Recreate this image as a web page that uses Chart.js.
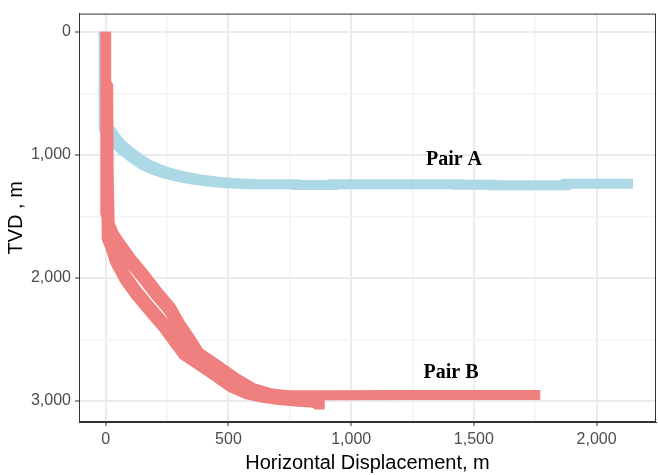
<!DOCTYPE html>
<html>
<head>
<meta charset="utf-8">
<script src="https://cdn.jsdelivr.net/npm/chart.js@4.4.1/dist/chart.umd.min.js"></script>
<style>
  html, body { margin: 0; padding: 0; background: #fff; }
  #wrap { width: 658px; height: 475px; position: relative; }
</style>
</head>
<body>
<div id="wrap"><canvas id="chart"></canvas></div>
<script>
// Well trajectories: horizontal displacement (m) vs TVD (m)
const pairAX = [-9, -9, 5, 20, 30, 60, 98, 130, 166, 207, 247, 300, 370, 440, 505, 600, 770, 780, 920, 930, 1430, 1440, 1570, 1580, 1870, 1880, 2128];
const pairAY = [40, 760, 800, 820, 857, 930, 992, 1040, 1085, 1120, 1148, 1175, 1200, 1218, 1232, 1240, 1240, 1246, 1246, 1240, 1240, 1244, 1244, 1247, 1247, 1236, 1236];

const pairB1X = [2, 2, 10, 12, 16, 30, 49, 97, 158, 205, 262, 300, 341, 375, 451, 519, 587, 655, 723, 900, 1200, 1500, 1750];
const pairB1Y = [40, 440, 470, 1200, 1590, 1660, 1717, 1852, 2000, 2121, 2255, 2390, 2510, 2618, 2720, 2817, 2898, 2938, 2954, 2955, 2952, 2952, 2952];

const pairB2X = [-2, -2, 3, 4, 18, 40, 80, 124, 180, 238, 282, 322, 385, 451, 519, 587, 655, 723, 791, 865, 872];
const pairB2Y = [40, 1440, 1470, 1650, 1717, 1852, 2000, 2121, 2255, 2390, 2510, 2618, 2700, 2790, 2885, 2945, 2975, 2993, 3005, 3015, 3030];

const xMajorTicks = [0, 500, 1000, 1500, 2000];
const xMinorTicks = [250, 750, 1250, 1750];
const yMajorTicks = [0, 1000, 2000, 3000];
const yMinorTicks = [500, 1500, 2500];

const labelTexts = ['Pair A', 'Pair B'];
const labelX = [1419, 1407];
const labelY = [1043, 2773];

const colorA = '#ADD8E6';
const colorB = '#F08080';
const markSize = 10;

function toPoints(xs, ys) {
    return xs.map((x, i) => ({ x: x, y: ys[i] }));
}

function allTicks(major, minor) {
    return major.concat(minor).sort((a, b) => a - b).map(v => ({ value: v }));
}

function wellDataset(xs, ys, color, layer) {
    return {
        data: toPoints(xs, ys),
        showLine: false,
        pointRadius: 0,
        borderColor: color,
        backgroundColor: color,
        layer: layer
    };
}

// convex hull (monotone chain), counter-clockwise
function hull(pts) {
    pts.sort((a, b) => a.x - b.x || a.y - b.y);
    const cross = (o, a, b) => (a.x - o.x) * (b.y - o.y) - (a.y - o.y) * (b.x - o.x);
    const lower = [];
    const upper = [];
    for (const p of pts) {
        while (lower.length >= 2 && cross(lower[lower.length - 2], lower[lower.length - 1], p) <= 0) lower.pop();
        lower.push(p);
    }
    for (let i = pts.length - 1; i >= 0; i--) {
        const p = pts[i];
        while (upper.length >= 2 && cross(upper[upper.length - 2], upper[upper.length - 1], p) <= 0) upper.pop();
        upper.push(p);
    }
    upper.pop();
    lower.pop();
    return lower.concat(upper);
}

function squareCorners(p, h) {
    return [
        { x: p.x - h, y: p.y - h }, { x: p.x + h, y: p.y - h },
        { x: p.x + h, y: p.y + h }, { x: p.x - h, y: p.y + h }
    ];
}

// wells drawn as square markers swept along the path
const wellPaths = {
    id: 'wellPaths',
    beforeDatasetsDraw(chart) {
        const { ctx, chartArea: a } = chart;
        const h = markSize / 2;
        const order = chart.data.datasets
            .map((ds, i) => i)
            .sort((i, j) => chart.data.datasets[i].layer - chart.data.datasets[j].layer);
        ctx.save();
        ctx.beginPath();
        ctx.rect(a.left, a.top, a.right - a.left, a.bottom - a.top);
        ctx.clip();
        order.forEach((i) => {
            const pts = chart.getDatasetMeta(i).data;
            ctx.beginPath();
            for (let k = 0; k < pts.length - 1; k++) {
                const poly = hull(squareCorners(pts[k], h).concat(squareCorners(pts[k + 1], h)));
                ctx.moveTo(poly[0].x, poly[0].y);
                for (let m = 1; m < poly.length; m++) ctx.lineTo(poly[m].x, poly[m].y);
                ctx.closePath();
            }
            ctx.fillStyle = chart.data.datasets[i].backgroundColor;
            ctx.fill('nonzero');
        });
        ctx.restore();
    }
};

// full panel border + pair labels
const panelDecor = {
    id: 'panelDecor',
    afterDatasetsDraw(chart) {
        const { ctx, chartArea: a, scales } = chart;
        ctx.save();
        ctx.font = 'bold 20px "Liberation Serif", "Times New Roman", serif';
        ctx.fillStyle = '#000';
        ctx.textAlign = 'center';
        ctx.textBaseline = 'middle';
        labelTexts.forEach((t, i) => {
            ctx.fillText(t, scales.x.getPixelForValue(labelX[i]), scales.y.getPixelForValue(labelY[i]));
        });
        ctx.strokeStyle = '#333333';
        ctx.lineWidth = 1;
        ctx.strokeRect(a.left + 0.5, a.top + 0.5, a.right - a.left - 1, a.bottom - a.top - 1);
        ctx.restore();
    }
};

const gridColor = (major) => (c) => major.includes(c.tick.value) ? '#EBEBEB' : '#F3F3F3';
const gridWidth = (major) => (c) => major.includes(c.tick.value) ? 2 : 1.5;
const tickMarkColor = (major) => (c) => major.includes(c.tick.value) ? '#333333' : 'rgba(0,0,0,0)';

new Chart(document.getElementById('chart'), {
    type: 'scatter',
    data: {
        datasets: [
            wellDataset(pairAX, pairAY, colorA, 0),
            wellDataset(pairB1X, pairB1Y, colorB, 1),
            wellDataset(pairB2X, pairB2Y, colorB, 2)
        ]
    },
    options: {
        responsive: true,
        maintainAspectRatio: false,
        animation: false,
        layout: { padding: { top: 10, right: 2, left: 0, bottom: 0 } },
        plugins: {
            legend: { display: false },
            tooltip: { enabled: false }
        },
        scales: {
            x: {
                type: 'linear',
                min: -109,
                max: 2242,
                afterBuildTicks: (axis) => { axis.ticks = allTicks(xMajorTicks, xMinorTicks); },
                afterFit: (scale) => { scale.height = 53; },
                ticks: {
                    autoSkip: false,
                    maxRotation: 0,
                    color: '#4D4D4D',
                    font: { family: 'Liberation Sans, Arial, sans-serif', size: 16 },
                    padding: 4,
                    callback: (v) => xMajorTicks.includes(v) ? v.toLocaleString('en-US') : ''
                },
                grid: {
                    color: gridColor(xMajorTicks),
                    lineWidth: gridWidth(xMajorTicks),
                    tickColor: tickMarkColor(xMajorTicks),
                    tickLength: 4,
                    tickWidth: 1
                },
                border: { display: true, color: '#333333', width: 1 },
                title: {
                    display: true,
                    text: 'Horizontal Displacement, m',
                    color: '#000',
                    font: { family: 'Liberation Sans, Arial, sans-serif', size: 20 },
                    padding: { top: 0, bottom: 0 }
                }
            },
            y: {
                type: 'linear',
                reverse: true,
                min: -148,
                max: 3172,
                afterBuildTicks: (axis) => { axis.ticks = allTicks(yMajorTicks, yMinorTicks); },
                afterFit: (scale) => { scale.width = 79; },
                ticks: {
                    autoSkip: false,
                    color: '#4D4D4D',
                    font: { family: 'Liberation Sans, Arial, sans-serif', size: 16 },
                    padding: 4,
                    callback: (v) => yMajorTicks.includes(v) ? v.toLocaleString('en-US') : ''
                },
                grid: {
                    color: gridColor(yMajorTicks),
                    lineWidth: gridWidth(yMajorTicks),
                    tickColor: tickMarkColor(yMajorTicks),
                    tickLength: 4,
                    tickWidth: 1
                },
                border: { display: true, color: '#333333', width: 1 },
                title: {
                    display: true,
                    text: 'TVD , m',
                    color: '#000',
                    font: { family: 'Liberation Sans, Arial, sans-serif', size: 20 },
                    padding: { top: 4, bottom: 0 }
                }
            }
        }
    },
    plugins: [wellPaths, panelDecor]
});
</script>
</body>
</html>
